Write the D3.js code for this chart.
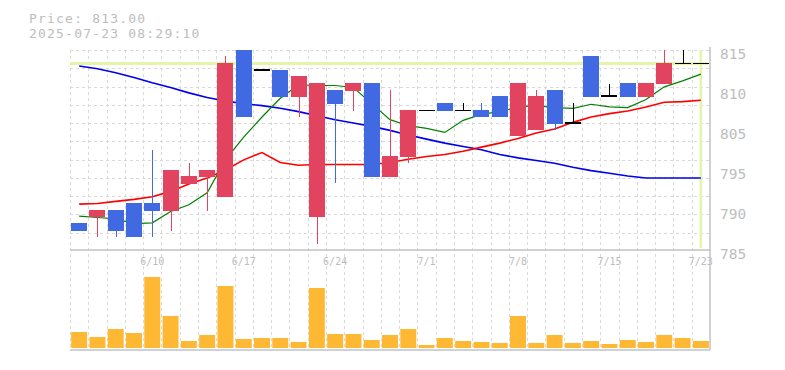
<!DOCTYPE html>
<html>
<head>
<meta charset="utf-8">
<script src="https://cdn.jsdelivr.net/npm/d3@7"></script>
<style>
  body { margin: 0; background: #fff; }
  svg { display: block; }
</style>
</head>
<body>
<svg id="chart" width="785" height="370"></svg>
<script>
/*************************Data********************* */
const dates = ["6/4", "6/5", "6/6", "6/9", "6/10", "6/11", "6/12", "6/13", "6/16", "6/17", "6/18", "6/19", "6/20", "6/23", "6/24", "6/25", "6/26", "6/27", "6/30", "7/1", "7/2", "7/3", "7/4", "7/7", "7/8", "7/9", "7/10", "7/11", "7/14", "7/15", "7/16", "7/17", "7/18", "7/22", "7/23"];
const opens = [789.2, 790.1, 791.1, 792.2, 792.2, 791.0, 795.0, 796.1, 793.1, 815.0, 812.0, 812.0, 808.0, 790.1, 809.0, 808.9, 810.1, 796.1, 799.1, 806.0, 807.1, 806.0, 806.0, 808.1, 802.1, 803.0, 809.0, 804.1, 814.1, 808.1, 810.1, 808.0, 810.0, 813.0, 813.0];
const highs = [789.2, 791.1, 791.1, 792.2, 800.1, 797.1, 798.1, 797.1, 814.1, 815.0, 812.0, 812.0, 811.1, 810.1, 809.0, 810.1, 810.1, 809.0, 806.0, 806.0, 807.1, 807.1, 807.1, 808.1, 810.1, 809.0, 809.0, 807.1, 814.1, 810.0, 810.1, 810.1, 815.0, 815.0, 813.0];
const lows = [788.0, 787.1, 787.1, 787.1, 787.1, 788.0, 795.0, 791.0, 793.1, 805.0, 812.0, 808.0, 805.0, 786.1, 795.1, 805.9, 796.1, 796.1, 798.1, 806.0, 805.9, 806.0, 805.0, 805.0, 802.1, 803.0, 803.0, 804.1, 808.0, 808.1, 808.0, 808.0, 810.0, 813.0, 813.0];
const closes = [788.0, 791.1, 788.0, 787.1, 791.0, 797.1, 796.2, 797.1, 813.1, 805.0, 812.0, 808.0, 811.1, 810.1, 807.0, 810.1, 796.1, 799.2, 806.0, 806.0, 805.9, 806.0, 805.0, 805.0, 810.1, 808.1, 804.0, 804.1, 808.0, 808.1, 808.0, 810.1, 813.1, 813.0, 813.0];
const volumes = [1600, 1100, 1900, 1500, 7100, 3200, 700, 1300, 6200, 900, 1000, 1000, 600, 6000, 1400, 1400, 800, 1300, 1900, 300, 1000, 700, 600, 500, 3200, 500, 1300, 500, 700, 400, 800, 600, 1300, 1000, 700];
// moving averages (green short, red mid, blue long)
const maShort = [790.2, 790.0, 789.8, 789.1, 789.2, 790.9, 791.9, 793.7, 798.6, 802.0, 805.0, 807.8, 809.8, 809.7, 809.7, 809.4, 807.0, 804.6, 803.7, 803.3, 802.7, 804.5, 805.4, 805.8, 806.5, 806.7, 806.4, 806.3, 806.9, 806.5, 806.4, 807.6, 809.5, 810.4, 811.4];
const maMid = [792.0, 792.1, 792.4, 792.7, 793.1, 793.9, 795.0, 795.9, 797.1, 798.6, 799.7, 798.2, 797.8, 797.9, 797.9, 797.9, 797.9, 798.2, 798.7, 799.1, 799.4, 799.9, 800.5, 801.1, 801.8, 802.6, 803.2, 804.2, 805.0, 805.5, 805.9, 806.5, 807.2, 807.3, 807.5];
const maLong = [812.6, 812.2, 811.6, 810.9, 810.1, 809.4, 808.6, 807.9, 807.4, 807.0, 806.7, 806.3, 805.8, 805.2, 804.6, 804.1, 803.6, 803.0, 802.3, 801.7, 801.1, 800.6, 800.1, 799.4, 798.9, 798.5, 798.1, 797.5, 797.0, 796.6, 796.2, 795.9, 795.9, 795.9, 795.9];
const dateLabels = ["6/10", "6/17", "6/24", "7/1", "7/8", "7/15", "7/23"];
const priceLabels = ["815", "810", "805", "795", "790", "785"];
const titleLines = ["Price: 813.00", "2025-07-23 08:29:10"];
const currentPrice = 813;

/*************************Scales********************* */
const left = 70;
const right = 710;
const svg = d3.select("svg#chart");
const mono = "'DejaVu Sans Mono', monospace";
const gridColor = "#d9d9d9";
const textColor = "#bdbdbd";

const scaleX = d3.scaleBand().domain(dates).range([left, right]).paddingInner(0.125).paddingOuter(0.0625);
const cx = (d) => scaleX(d) + scaleX.bandwidth() / 2;
const scaleY = d3.scaleLinear().domain([785, 815]).range([251, 50]);
const scaleVol = d3.scaleLinear().domain([0, 9700]).range([348, 251]);
const gridX = d3.scaleLinear().domain([0, dates.length]).range([left, right]);
const gridY = d3.scaleLinear().domain([0, 11]).range([251, 50]);
const labelY = d3.scalePoint().domain(priceLabels).range([54, 254]);

/*************************Title********************* */
svg.append("g").attr("class", "title")
  .selectAll("text")
  .data(titleLines)
  .join("text")
  .text((d) => d)
  .attr("x", 29)
  .attr("y", (_, i) => 22.5 + i * 15.5)
  .attr("fill", textColor)
  .style("font-family", mono)
  .style("font-size", "13px")
  .style("letter-spacing", "1.2px");

/*************************Grid********************* */
const grid = svg.append("g").attr("class", "grid").attr("shape-rendering", "crispEdges");
grid.selectAll("line.v")
  .data(d3.range(dates.length))
  .join("line")
  .attr("class", "v")
  .attr("x1", (d) => Math.round(gridX(d)) + 0.5)
  .attr("x2", (d) => Math.round(gridX(d)) + 0.5)
  .attr("y1", 50)
  .attr("y2", 350)
  .attr("stroke", gridColor)
  .attr("stroke-dasharray", "3,3");
grid.selectAll("line.h")
  .data(d3.range(1, 12))
  .join("line")
  .attr("class", "h")
  .attr("x1", left)
  .attr("x2", right)
  .attr("y1", (d) => Math.round(gridY(d)) + 0.5)
  .attr("y2", (d) => Math.round(gridY(d)) + 0.5)
  .attr("stroke", gridColor)
  .attr("stroke-dasharray", "3,3");

// current price line + cursor
svg.append("line")
  .attr("x1", left).attr("x2", right - 2)
  .attr("y1", scaleY(currentPrice)).attr("y2", scaleY(currentPrice))
  .attr("stroke", "#e3f5a6").attr("stroke-width", 3);
svg.append("line")
  .attr("x1", cx(dates[dates.length - 1])).attr("x2", cx(dates[dates.length - 1]))
  .attr("y1", 50).attr("y2", 248)
  .attr("stroke", "#e3f5a6").attr("stroke-width", 2.5);

/*************************Moving averages********************* */
const lineGen = (vals) => d3.line().x((_, i) => cx(dates[i])).y((v) => scaleY(v))(vals);
[[maLong, "#0000ee", 1.6], [maMid, "#ff0000", 1.6], [maShort, "#008000", 1.2]].forEach(([vals, color, w]) => {
  svg.append("path")
    .attr("d", lineGen(vals))
    .attr("fill", "none")
    .attr("stroke", color)
    .attr("stroke-width", w);
});

/*************************Candles********************* */
const candles = dates.map((d, i) => ({ date: d, o: opens[i], h: highs[i], l: lows[i], c: closes[i] }));
const colorOf = (d) => (d.c > d.o ? "#e2435f" : d.c < d.o ? "#4169e1" : "#000");
const cg = svg.append("g").attr("class", "candles").attr("shape-rendering", "crispEdges");
cg.selectAll("line.wick")
  .data(candles.filter((d) => d.h > Math.max(d.o, d.c) || d.l < Math.min(d.o, d.c)))
  .join("line")
  .attr("class", "wick")
  .attr("x1", (d) => Math.round(cx(d.date)) + 0.5)
  .attr("x2", (d) => Math.round(cx(d.date)) + 0.5)
  .attr("y1", (d) => scaleY(d.h))
  .attr("y2", (d) => scaleY(d.l))
  .attr("stroke", colorOf)
  .attr("stroke-width", 1.2);
cg.selectAll("rect")
  .data(candles.filter((d) => d.o !== d.c))
  .join("rect")
  .attr("x", (d) => scaleX(d.date))
  .attr("width", scaleX.bandwidth())
  .attr("y", (d) => scaleY(Math.max(d.o, d.c)))
  .attr("height", (d) => Math.abs(scaleY(d.o) - scaleY(d.c)))
  .attr("fill", colorOf);
cg.selectAll("line.doji")
  .data(candles.filter((d) => d.o === d.c))
  .join("line")
  .attr("class", "doji")
  .attr("x1", (d) => scaleX(d.date))
  .attr("x2", (d) => scaleX(d.date) + scaleX.bandwidth())
  .attr("y1", (d) => scaleY(d.o))
  .attr("y2", (d) => scaleY(d.o))
  .attr("stroke", "#000")
  .attr("stroke-width", 1.5);

/*************************Volume********************* */
svg.append("g").attr("class", "volume")
  .selectAll("rect")
  .data(volumes)
  .join("rect")
  .attr("x", (_, i) => scaleX(dates[i]))
  .attr("width", scaleX.bandwidth())
  .attr("y", (v) => scaleVol(v))
  .attr("height", (v) => scaleVol(0) - scaleVol(v))
  .attr("fill", "#ffb834");

/*************************Frame********************* */
const frame = svg.append("g").attr("stroke", "#c2c2c2").attr("stroke-width", 1.5);
frame.append("line").attr("x1", left).attr("x2", right).attr("y1", 250).attr("y2", 250);
frame.append("line").attr("x1", left).attr("x2", right).attr("y1", 350).attr("y2", 350);
frame.append("line").attr("x1", right).attr("x2", right).attr("y1", 47).attr("y2", 350);

/*************************Axes********************* */
const xAxis = d3.axisBottom(scaleX).tickValues(dateLabels).tickSize(0).tickPadding(8);
svg.append("g").attr("class", "x-axis").attr("transform", "translate(0,250)").call(xAxis);
const yAxis = d3.axisRight(labelY).tickSize(0).tickPadding(8);
svg.append("g").attr("class", "y-axis").attr("transform", `translate(${right + 2},0)`).call(yAxis);

d3.selectAll(".domain").attr("opacity", 0);
d3.selectAll(".x-axis .tick text").attr("fill", textColor).style("font-family", mono).style("font-size", "10px");
d3.selectAll(".y-axis .tick text").attr("fill", textColor).style("font-family", mono).style("font-size", "14.5px");
</script>
</body>
</html>
